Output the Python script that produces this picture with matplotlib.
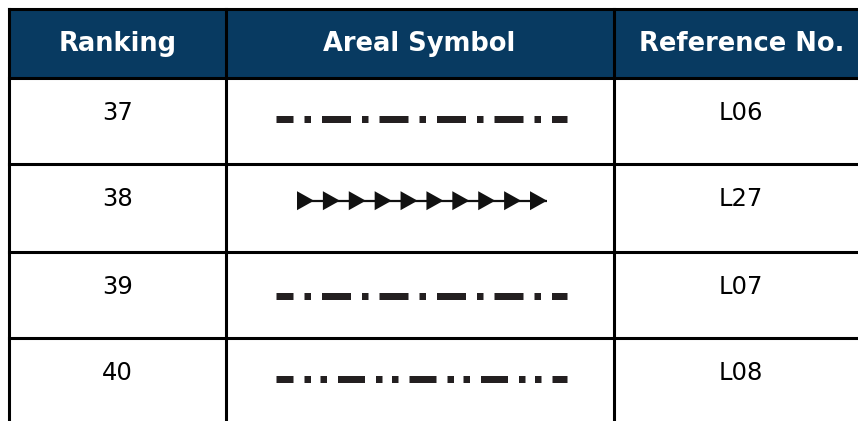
import matplotlib.pyplot as plt
from matplotlib.patches import Rectangle

plt.rcParams['lines.scale_dashes'] = False

# table content
headers = ['Ranking', 'Areal Symbol', 'Reference No.']
rankings = [37, 38, 39, 40]
ref_nos = ['L06', 'L27', 'L07', 'L08']
symbol_kinds = ['dash_dot', 'arrows', 'dash_dot', 'dash_dot_dot']
arrow_counts = [0, 10, 0, 0]

# layout in pixel coordinates (figure is 858 x 421)
W, H = 858, 421
col_edges = [9, 225.5, 613.5, 869]
header_top, header_bottom = 9, 77.5
row_edges = [77.5, 163.7, 251.7, 338, 426]
text_offset = 35
symbol_offsets = [41, 37, 44, 41]
sym_x0, sym_x1 = 276, 567
header_color = '#083a61'
border_w = 2.2  # points

# dash patterns in points (px * 0.72)
px = 0.72
dash_styles = {
    'dash_dot': (12 * px, (29 * px, 11 * px, 6.5 * px, 11 * px)),
    'dash_dot_dot': (10 * px, (27 * px, 11 * px, 6.5 * px, 9.5 * px, 6.5 * px, 11 * px)),
}

fig = plt.figure(figsize=(W / 100, H / 100), dpi=100)
ax = fig.add_axes([0, 0, 1, 1])
ax.set_xlim(0, W)
ax.set_ylim(H, 0)
ax.axis('off')

# header band
ax.add_patch(Rectangle((col_edges[0], header_top), col_edges[-1] - col_edges[0],
                       header_bottom - header_top, facecolor=header_color, edgecolor='none'))
for i, label in enumerate(headers):
    cx = (col_edges[i] + col_edges[i + 1]) / 2
    ax.text(cx, 44, label, color='white', fontsize=18.5, fontweight='bold',
            ha='center', va='center', family='DejaVu Sans')

# body rows
for r, (rank, ref, kind) in enumerate(zip(rankings, ref_nos, symbol_kinds)):
    top = row_edges[r]
    ty = top + text_offset
    ax.text((col_edges[0] + col_edges[1]) / 2, ty, str(rank), fontsize=17.5,
            ha='center', va='center', color='black')
    ax.text((col_edges[2] + col_edges[3]) / 2, ty, ref, fontsize=17.5,
            ha='center', va='center', color='black')
    sy = top + symbol_offsets[r]
    if kind == 'arrows':
        n = arrow_counts[r]
        x_start, x_end = 297, 547
        ax.plot([x_start, x_end], [sy, sy], color='#111111', lw=1.6,
                solid_capstyle='butt')
        tri_w = 17
        pitch = (x_end - x_start - tri_w) / (n - 1)
        for k in range(n):
            bx = x_start + k * pitch
            ax.fill([bx, bx + tri_w, bx], [sy - 9.5, sy, sy + 9.5], color='#111111', lw=0)
    else:
        ax.plot([sym_x0, sym_x1], [sy, sy], color='#231f20', lw=7 * px,
                linestyle=dash_styles[kind], dash_capstyle='butt')

# grid lines
ax.plot([col_edges[0], W], [header_top, header_top], color='black', lw=border_w)
for y in row_edges[:-1]:
    ax.plot([col_edges[0], W], [y, y], color='black', lw=border_w)
for x in col_edges[:-1]:
    ax.plot([x, x], [header_top, H], color='black', lw=border_w)

fig.savefig('out.png', dpi=100)
